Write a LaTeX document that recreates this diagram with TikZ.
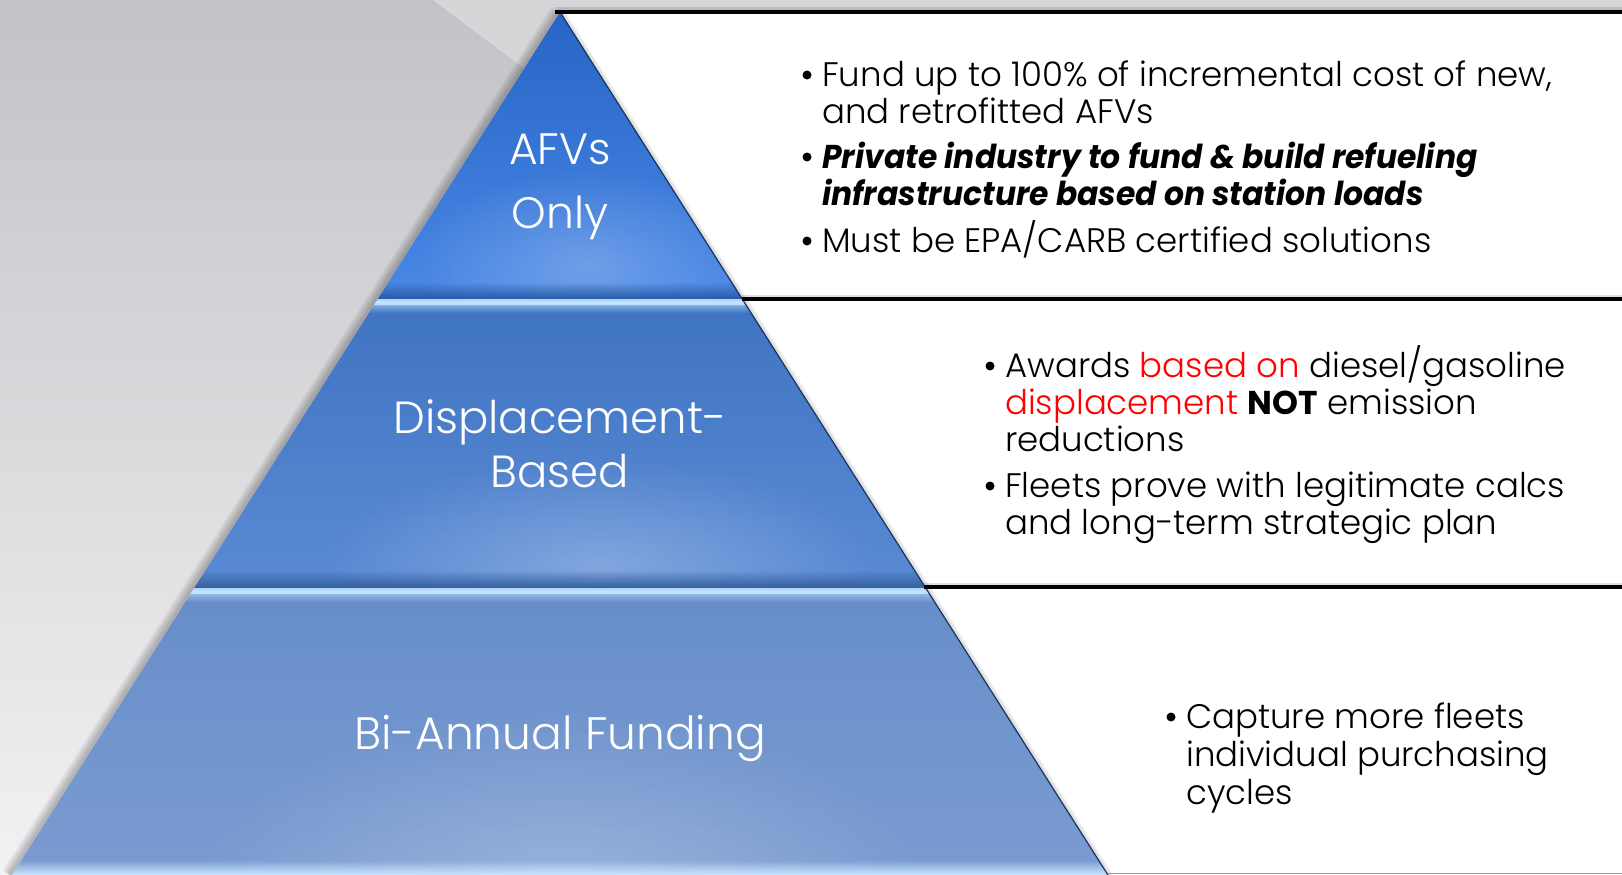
\documentclass[tikz,border=0pt]{standalone}
\usepackage{fontspec}
\setmainfont{Poppins}
\IfFontExistsTF{Poppins Light}{\newfontfamily\lightfont{Poppins Light}}{\newfontfamily\lightfont{Poppins}}
\newfontfamily\bifont{Poppins}[FakeStretch=0.95]
\usetikzlibrary{fadings}
\definecolor{bgtop}{HTML}{C3C3C7}
\definecolor{bgbot}{HTML}{F2F2F4}
\definecolor{bglight}{HTML}{D6D6D8}
\definecolor{tAtop}{HTML}{2765C6}
\definecolor{tAbot}{HTML}{4A88E6}
\definecolor{tAdark}{HTML}{2A5AA6}
\definecolor{tBtop}{HTML}{3F74C2}
\definecolor{tBbot}{HTML}{5A8AD4}
\definecolor{tBdark}{HTML}{345E9E}
\definecolor{tCtop}{HTML}{668DC9}
\definecolor{tCbot}{HTML}{7B9CD1}
\definecolor{hilite}{HTML}{B2DAFF}
\definecolor{edgeblue}{HTML}{1D3A66}
\definecolor{redtxt}{HTML}{FF0000}
\tikzfading[name=glowfade, inner color=transparent!0, outer color=transparent!100]
\begin{document}
\begin{tikzpicture}[x=1pt,y=-1pt,
  lbl/.style={text=white, inner sep=0pt, anchor=base},
  dot/.style={circle, fill=black, inner sep=0pt, minimum size=9pt},
  itm/.style={anchor=base west, inner sep=0pt, font=\lightfont\fontsize{34}{37}\selectfont},
  blackline/.style={line width=4.5pt, black},
  lineshadow/.style={line width=3pt, black, opacity=0.12}
]
\useasboundingbox (0,0) rectangle (1622,875);
% background
\fill[white] (0,0) rectangle (1622,875);
\shade[top color=bgtop, bottom color=bgbot] (0,0) -- (560,0) -- (560,12) -- (12,875) -- (0,875) -- cycle;
\fill[bglight] (433,0) -- (1622,0) -- (1622,12) -- (560,12) -- (524,68.4) -- cycle;
% pyramid shadow
\coordinate (apex) at (560,12);
\coordinate (bl) at (12,875);
\coordinate (br) at (1108,875);
\foreach \w in {2,5,8,11,14,17}
  \draw[black, opacity=0.045, line width=\w pt] ([xshift=-2pt]apex) -- ([xshift=-2pt]bl);
% pyramid bands
\begin{scope}
\path[clip] (apex) -- (br) -- (bl) -- cycle;
% tier 1
\shade[top color=tAtop, bottom color=tAbot] (0,12) rectangle (1200,299);
\fill[white, opacity=0.22, path fading=glowfade] (585,265) ellipse (170 and 95);
\fill[tAdark, path fading=north] (0,282) rectangle (1200,299);
% tier 2
\shade[top color=tBtop, bottom color=tBbot] (0,299) rectangle (1200,588);
\fill[white, opacity=0.25, path fading=glowfade] (600,565) ellipse (280 and 110);
\fill[hilite, path fading=south] (0,299) rectangle (1200,313);
\fill[hilite!80!white] (0,300.5) rectangle (1200,304.5);
\fill[tBdark, path fading=north] (0,570) rectangle (1200,588);
% tier 3
\shade[top color=tCtop, bottom color=tCbot] (0,588) rectangle (1200,875);
\fill[white, opacity=0.22, path fading=glowfade] (560,880) ellipse (360 and 170);
\fill[hilite, path fading=south] (0,588) rectangle (1200,602);
\fill[hilite!80!white] (0,589.5) rectangle (1200,593.5);
\fill[hilite!70!white, path fading=north] (0,860) rectangle (1200,875);
\end{scope}
\draw[edgeblue, line width=1.2pt] (apex) -- (br);
\foreach \w in {2,4,6}
  \draw[black, opacity=0.04, line width=\w pt] ([xshift=2pt]apex) -- ([xshift=2pt]br);
% black rules
\coordinate (t0) at (555,12);   \coordinate (t1) at (1622,12);
\coordinate (s0) at (742,299);  \coordinate (s1) at (1622,299);
\coordinate (u0) at (924,587);  \coordinate (u1) at (1622,587);
\draw[lineshadow] ([yshift=3pt]t0) -- ([yshift=3pt]t1);
\draw[lineshadow] ([yshift=3pt]s0) -- ([yshift=3pt]s1);
\draw[lineshadow] ([yshift=3pt]u0) -- ([yshift=3pt]u1);
\draw[blackline] (t0) -- (t1);
\draw[blackline] (s0) -- (s1);
\draw[blackline] (u0) -- (u1);
\draw[black!40, line width=1.5pt] (1108,873.5) -- (1622,873.5);
% pyramid labels
\node[lbl, font=\lightfont\fontsize{44}{64}\selectfont] (lab1) at (560,164)
  {\parbox[t]{400pt}{\centering AFVs\\Only}};
\node[lbl, font=\lightfont\fontsize{45}{54}\selectfont] (lab2) at (560,433)
  {\parbox[t]{500pt}{\centering Displacement-\\Based}};
\node[lbl, font=\lightfont\fontsize{45.5}{54}\selectfont] (lab3) at (560,749)
  {Bi-Annual Funding};
% box 1
\node[dot] (b1a) at (807,75) {};
\node[itm] (i1a) at (822,86) {\parbox[t]{780pt}{Fund up to 100\% of incremental cost of new,\\and retrofitted AFVs}};
\node[dot] (b1b) at (807,157) {};
\node[itm] (i1b) at (822,168) {\parbox[t]{780pt}{\bifont\fontsize{33}{37}\selectfont\bfseries\itshape Private industry to fund \& build refueling\\infrastructure based on station loads}};
\node[dot] (b1c) at (807,241) {};
\node[itm] (i1c) at (822,252) {Must be EPA/CARB certified solutions};
% box 2
\node[dot] (b2a) at (990,366) {};
\node[itm] (i2a) at (1005,377) {\parbox[t]{600pt}{Awards \textcolor{redtxt}{based on} diesel/gasoline\\\textcolor{redtxt}{displacement} {\normalfont\fontsize{33}{37}\selectfont\bfseries NOT} emission\\reductions}};
\node[dot] (b2b) at (990,486) {};
\node[itm] (i2b) at (1005,497) {\parbox[t]{600pt}{Fleets prove with legitimate calcs\\and long-term strategic plan}};
% box 3
\node[dot] (b3a) at (1171,717) {};
\node[itm, font=\lightfont\fontsize{34}{38}\selectfont] (i3a) at (1186,728) {\parbox[t]{430pt}{Capture more fleets\\individual purchasing\\cycles}};
\end{tikzpicture}
\end{document}
